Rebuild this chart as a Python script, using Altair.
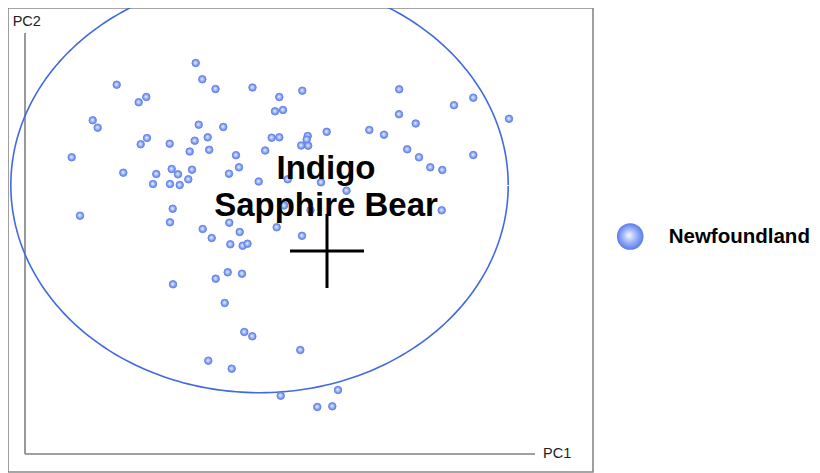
import altair as alt
import pandas as pd

# ---- data (PC scores) ----
group_name = "Newfoundland"
pc1 = [17.07, 17.73, 19.05, 22.75, 9.17, 12.13, 11.37, 6.77, 7.27, 17.37,
       19.83, 12.20, 11.57, 14.47, 16.97, 18.27, 16.47, 18.42, 21.10, 4.67,
       25.43, 27.73, 25.00, 25.80, 37.42, 37.40, 39.07, 42.90, 44.83, 48.40,
       34.43, 35.90, 30.17, 24.67, 25.43, 28.27, 28.17, 27.62, 28.32, 24.02,
       38.22, 39.40, 44.83, 9.83, 13.13, 12.80, 14.67, 15.30, 16.70, 16.33,
       14.50, 15.47, 20.40, 21.40, 23.37, 5.50, 14.77, 14.50, 17.77, 20.43,
       21.47, 18.67, 20.53, 21.77, 22.25, 40.53, 41.73, 26.27, 29.60, 32.15,
       25.90, 28.55, 41.67, 25.17, 27.70, 14.80, 19.07, 20.27, 21.70, 19.97,
       21.93, 22.73, 27.53, 18.33, 20.67, 25.57, 31.30, 29.23, 30.73]
pc2 = [39.10, 37.47, 36.50, 36.65, 36.93, 35.70, 35.17, 33.37, 32.63, 32.93,
       32.70, 31.60, 30.97, 31.03, 31.33, 31.67, 30.25, 30.42, 29.88, 29.67,
       35.70, 36.33, 34.27, 34.40, 36.47, 33.98, 33.05, 34.88, 35.63, 33.52,
       32.40, 31.93, 32.22, 31.63, 31.67, 31.80, 31.45, 30.85, 30.83, 30.35,
       30.47, 29.67, 29.90, 28.13, 28.00, 27.00, 28.50, 27.97, 28.43, 27.47,
       27.00, 26.90, 28.03, 28.67, 27.25, 23.83, 24.53, 23.17, 22.50, 23.13,
       22.20, 21.60, 20.97, 20.83, 21.03, 28.67, 28.40, 27.47, 27.17, 26.33,
       24.85, 24.38, 24.37, 22.67, 21.82, 16.97, 17.53, 18.17, 18.03, 15.10,
       12.20, 11.77, 10.40, 9.33, 8.53, 5.83, 6.40, 4.70, 4.77]

# confidence ellipse (centre, semi-axes)
ell_cx, ell_cy = 23.45, 26.89
ell_rx, ell_ry = 24.87, 20.76

# group centroid marker and label
cross_x, cross_y, cross_half = 30.2, 20.3, 3.7
label_text = "Indigo\nSapphire Bear"
label_x, label_y = 30.1, 27.5

# axis extent
axis_x_max, axis_y_max = 51.0, 42.1
x_domain = [-1.7, 56.8]
y_domain = [-1.8, 44.6]

FONT = "Liberation Sans"

xs = alt.Scale(domain=x_domain, nice=False, zero=False)
ys = alt.Scale(domain=y_domain, nice=False, zero=False)

points_df = pd.DataFrame({"PC1": pc1, "PC2": pc2, "group": [group_name] * len(pc1)})

grad = alt.RadialGradient(
    gradient="radial",
    stops=[alt.GradientStop(color="#f6f8ff", offset=0),
           alt.GradientStop(color="#a9bcf7", offset=0.45),
           alt.GradientStop(color="#5a7cec", offset=1)],
    x1=0.45, y1=0.45, r1=0, x2=0.5, y2=0.5, r2=0.5,
)

points = alt.Chart(points_df).mark_point(
    filled=True, fill=grad, stroke="#6688ee", strokeWidth=1, size=56, opacity=1
).encode(
    x=alt.X("PC1:Q", scale=xs, axis=None),
    y=alt.Y("PC2:Q", scale=ys, axis=None),
    shape=alt.Shape("group:N", scale=alt.Scale(range=["circle"]),
                    legend=alt.Legend(title=None, orient="none", legendX=608.7, legendY=215,
                                      symbolSize=707, symbolStrokeWidth=0,
                                      labelFont=FONT, labelFontSize=20.5, labelFontWeight="bold",
                                      labelColor="#000000", labelOffset=25, padding=0)),
)

ellipse = alt.Chart(alt.sequence(0, 6.3, 0.02, as_="t")).transform_calculate(
    ex=f"{ell_cx} + {ell_rx} * cos(datum.t)",
    ey=f"{ell_cy} + {ell_ry} * sin(datum.t)",
).mark_line(color="#4169e1", strokeWidth=1.6, clip=True).encode(
    x=alt.X("ex:Q", scale=xs, axis=None),
    y=alt.Y("ey:Q", scale=ys, axis=None),
    order="t:Q",
)

cross_df = pd.DataFrame({
    "x": [cross_x - cross_half, cross_x],
    "x2": [cross_x + cross_half, cross_x],
    "y": [cross_y, cross_y - cross_half],
    "y2": [cross_y, cross_y + cross_half],
})
cross = alt.Chart(cross_df).mark_rule(color="#000000", strokeWidth=3).encode(
    x=alt.X("x:Q", scale=xs, axis=None), x2="x2:Q",
    y=alt.Y("y:Q", scale=ys, axis=None), y2="y2:Q",
)

label = alt.Chart(pd.DataFrame({"x": [label_x], "y": [label_y], "t": [label_text]})).mark_text(
    font=FONT, fontSize=33, fontWeight="bold", color="#000000", align="center",
    baseline="alphabetic", lineBreak="\n", lineHeight=37,
).encode(
    x=alt.X("x:Q", scale=xs, axis=None), y=alt.Y("y:Q", scale=ys, axis=None), text="t:N"
)

axes_df = pd.DataFrame({
    "x": [0, 0], "x2": [axis_x_max, 0], "y": [0, 0], "y2": [0, axis_y_max]
})
axes = alt.Chart(axes_df).mark_rule(color="#808080", strokeWidth=1.6).encode(
    x=alt.X("x:Q", scale=xs, axis=None), x2="x2:Q",
    y=alt.Y("y:Q", scale=ys, axis=None), y2="y2:Q",
)

axis_labels_df = pd.DataFrame({
    "x": [-1.23, 51.8], "y": [42.8, 0.0], "t": ["PC2", "PC1"]
})
pc2_lab = alt.Chart(axis_labels_df.iloc[[0]]).mark_text(
    font=FONT, fontSize=14.5, color="#222222", align="left", baseline="alphabetic"
).encode(x=alt.X("x:Q", scale=xs, axis=None), y=alt.Y("y:Q", scale=ys, axis=None), text="t:N")
pc1_lab = alt.Chart(axis_labels_df.iloc[[1]]).mark_text(
    font=FONT, fontSize=14.5, color="#222222", align="left", baseline="middle"
).encode(x=alt.X("x:Q", scale=xs, axis=None), y=alt.Y("y:Q", scale=ys, axis=None), text="t:N")

chart = alt.layer(axes, ellipse, points, cross, label, pc2_lab, pc1_lab).properties(
    width=585, height=464,
    padding={"left": 0, "top": 0, "right": 219, "bottom": 1},
    autosize=alt.AutoSizeParams(type="none"),
).configure_view(stroke="#888888", strokeWidth=1.6)

chart.save("out.html", embed_options={"renderer": "svg", "actions": False})
